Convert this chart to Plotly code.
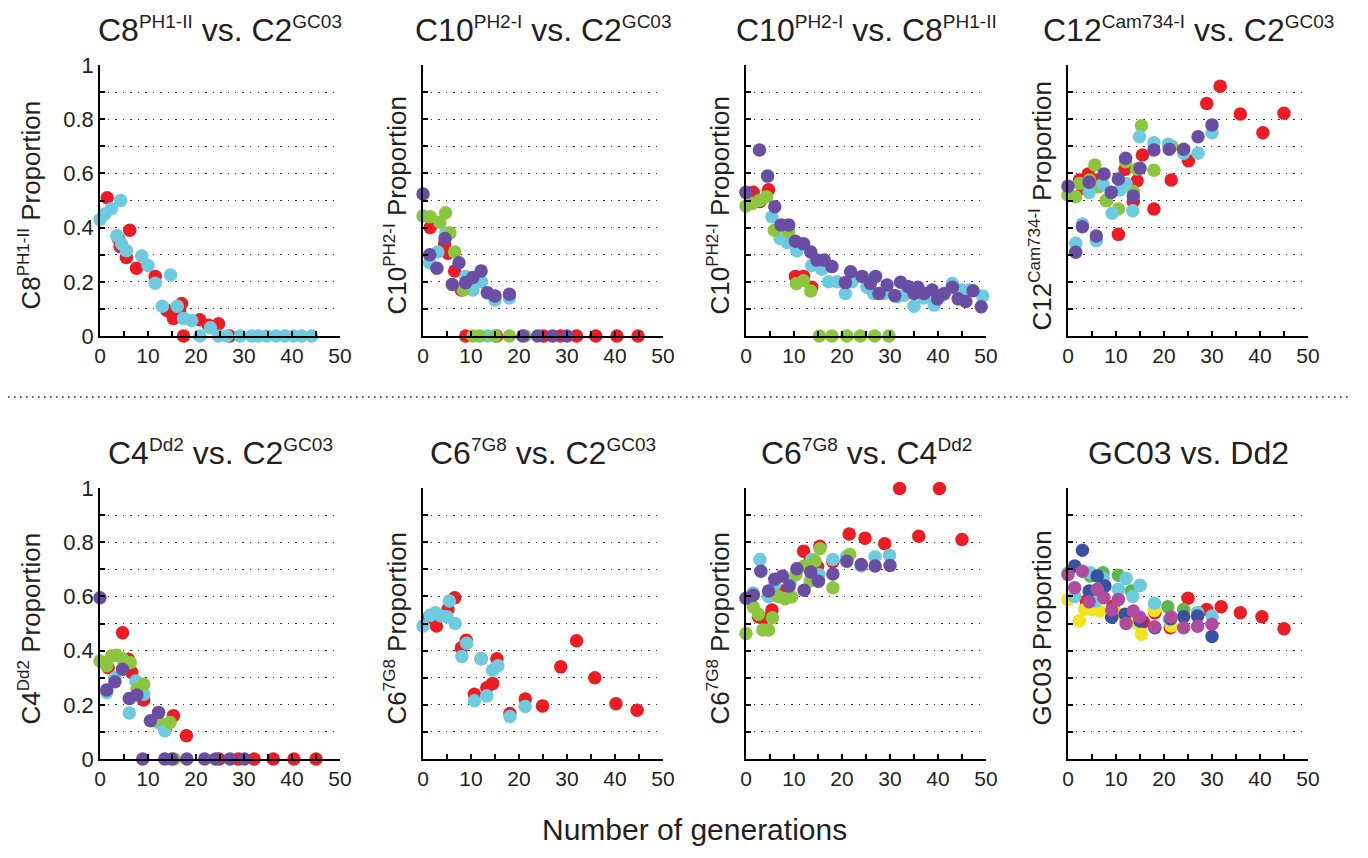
import plotly.graph_objects as go

# ---------------- data ----------------
RED = "#ED1C24"; CYAN = "#6CCBDE"; GREEN = "#8CC63F"; PURPLE = "#6A4EA3"
BLUE = "#3A50A2"; DGREEN = "#5CB84A"; YELLOW = "#F2E41C"; MAGENTA = "#B04C9E"

# Panel 1: C8 vs C2
p1_red_x = [1.5, 3.8, 4.2, 5.5, 6.2, 7.6, 11.5, 13.9, 15.3, 16.6, 17.0, 17.4, 20.8, 22.6, 24.7, 27.0]
p1_red_y = [0.51, 0.36, 0.33, 0.29, 0.39, 0.25, 0.22, 0.095, 0.065, 0.09, 0.12, 0.0, 0.06, 0.04, 0.045, 0.0]
p1_cyan_x = [0, 1, 2.4, 4.3, 3.5, 4.5, 5.5, 8.7, 10, 11.5, 14.7, 13, 16.1, 17.4, 19.1, 20.8, 23, 24.7, 26.4,
             29.2, 31.6, 33, 34.7, 36.7, 38.5, 40.3, 42, 44.1]
p1_cyan_y = [0.43, 0.45, 0.47, 0.50, 0.37, 0.34, 0.315, 0.295, 0.26, 0.195, 0.225, 0.11, 0.11, 0.065, 0.057, 0,
             0.03, 0, 0, 0, 0, 0, 0, 0, 0, 0, 0, 0]

# Panel 2: C10 vs C2
p2_red_x = [1.5, 4.5, 5.2, 6.6, 8.0, 8.9, 15.3, 25.1, 28.6, 32, 36, 40.4, 44.8]
p2_red_y = [0.40, 0.34, 0.305, 0.24, 0.17, 0, 0, 0, 0, 0, 0, 0, 0]
p2_cyan_x = [1.4, 3.1, 4.7, 8.9, 10.4, 12.2, 15, 18, 13.4]
p2_cyan_y = [0.27, 0.31, 0.38, 0.22, 0.17, 0.20, 0.133, 0.14, 0]
p2_green_x = [0, 1.5, 3.5, 4.7, 5.6, 6.6, 8.4, 10.4, 11.8, 15, 18, 21.3]
p2_green_y = [0.443, 0.44, 0.42, 0.455, 0.38, 0.31, 0.17, 0, 0, 0, 0, 0]
p2_purple_x = [0, 1.4, 2.9, 4.6, 7.5, 6.1, 8.9, 10.4, 12.1, 13.4, 15, 18, 20.8, 23.9, 27, 30]
p2_purple_y = [0.524, 0.30, 0.25, 0.36, 0.27, 0.19, 0.197, 0.216, 0.24, 0.16, 0.148, 0.154, 0, 0, 0, 0]

# Panel 3: C10 vs C8
p3_red_x = [1.5, 2.9, 4.7, 10.3, 12.0, 13.7]
p3_red_y = [0.53, 0.496, 0.54, 0.22, 0.22, 0.18]
p3_cyan_x = [5.4, 7.1, 8.6, 10.6, 13.7, 15.8, 17.2, 19, 20.7, 22.1, 25.2, 26.6, 28.7, 31.5, 32.9, 35, 37.1,
             39.2, 40.9, 43, 44.8, 46.5, 49.3]
p3_cyan_y = [0.44, 0.36, 0.345, 0.315, 0.26, 0.246, 0.2, 0.2, 0.157, 0.2, 0.18, 0.157, 0.157, 0.145, 0.15,
             0.11, 0.14, 0.114, 0.15, 0.194, 0.17, 0.17, 0.148]
p3_green_x = [0, 1.4, 2.8, 4.3, 5.9, 8.9, 10.5, 12, 13.5, 15.3, 17.9, 21, 23.8, 26.8, 29.8]
p3_green_y = [0.48, 0.49, 0.50, 0.514, 0.39, 0.385, 0.194, 0.204, 0.166, 0, 0, 0, 0, 0, 0]
p3_purple_x = [0, 2.8, 4.5, 6, 7.3, 8.9, 10.3, 12, 13.5, 14.8, 16.3, 17.9, 20.7, 21.8, 24.2, 25.9, 27, 27.7,
               29.4, 31, 32.2, 33.8, 35, 35.8, 37.1, 38.8, 39.9, 41.3, 43, 44.2, 45.8, 47.3, 49]
p3_purple_y = [0.53, 0.686, 0.59, 0.477, 0.41, 0.41, 0.35, 0.34, 0.31, 0.28, 0.28, 0.256, 0.197, 0.237, 0.22,
               0.194, 0.22, 0.157, 0.188, 0.149, 0.198, 0.182, 0.157, 0.18, 0.157, 0.17, 0.137, 0.157, 0.18,
               0.137, 0.127, 0.167, 0.108]

# Panel 4: C12 vs C2
p4_red_x = [31.7, 28.9, 35.9, 45, 40.6, 25.1, 15.5, 11.9, 14.4, 21.5, 17.9, 13.6, 10.5, 2.4, 4.2, 3.0, 5.9, 8.0]
p4_red_y = [0.922, 0.858, 0.819, 0.822, 0.75, 0.647, 0.668, 0.615, 0.573, 0.576, 0.469, 0.496, 0.375, 0.576,
            0.598, 0.545, 0.576, 0.50]
p4_green_x = [15.3, 5.6, 0, 1.6, 2.4, 4.5, 6.4, 8.0, 10.5, 12, 13.6, 14.3, 17.9, 21.6]
p4_green_y = [0.776, 0.631, 0.52, 0.514, 0.563, 0.576, 0.551, 0.50, 0.469, 0.643, 0.533, 0.616, 0.612, 0.70]
p4_cyan_x = [14.9, 17.9, 20.9, 24.1, 27.1, 30, 1.6, 3.0, 5.9, 4.4, 7.3, 9.2, 12.1, 10.8, 13.5]
p4_cyan_y = [0.735, 0.713, 0.708, 0.674, 0.674, 0.75, 0.342, 0.413, 0.352, 0.53, 0.56, 0.453, 0.563, 0.539,
             0.462]
p4_purple_x = [0, 1.6, 3.0, 4.4, 5.9, 7.5, 9.0, 10.5, 12, 13.6, 15, 17.9, 21.1, 24.1, 27.1, 30]
p4_purple_y = [0.553, 0.309, 0.403, 0.567, 0.369, 0.598, 0.53, 0.579, 0.656, 0.517, 0.619, 0.686, 0.689, 0.689,
               0.735, 0.779]

# Panel 5: C4 vs C2
p5_red_x = [4.7, 5.9, 6.6, 9.1, 1.7, 15.3, 18, 13.6, 24.8, 28.8, 32.1, 36.1, 40.4, 45]
p5_red_y = [0.466, 0.368, 0.319, 0.218, 0.337, 0.16, 0.086, 0.11, 0, 0, 0, 0, 0, 0]
p5_cyan_x = [1.4, 3.1, 6.1, 7.5, 9.1, 12.1, 13.5]
p5_cyan_y = [0.245, 0.30, 0.17, 0.288, 0.239, 0.135, 0.104]
p5_green_x = [0, 1.4, 2.4, 3.5, 4.7, 6.3, 9.1, 7.7, 12.1, 14.6, 15.5]
p5_green_y = [0.362, 0.344, 0.38, 0.383, 0.37, 0.356, 0.276, 0.258, 0.145, 0.135, 0]
p5_purple_x = [0, 1.4, 3.1, 4.7, 6.1, 7.7, 10.5, 12.2, 8.9, 13.5, 15, 18.1, 21.8, 24.1, 27.1, 30.1]
p5_purple_y = [0.595, 0.255, 0.285, 0.331, 0.223, 0.236, 0.141, 0.172, 0, 0, 0, 0, 0, 0, 0, 0]

# Panel 6: C6 vs C2
p6_red_x = [6.6, 5.2, 2.8, 1.2, 9.0, 8.0, 12.1, 15.4, 14.5, 13.3, 10.7, 21.3, 24.9, 18.1, 28.7, 32, 35.8,
            40.2, 44.6]
p6_red_y = [0.595, 0.552, 0.491, 0.521, 0.438, 0.41, 0.37, 0.37, 0.279, 0.263, 0.239, 0.221, 0.196, 0.168,
            0.34, 0.436, 0.30, 0.204, 0.18]
p6_cyan_x = [0, 1.5, 2.6, 3.8, 5.0, 5.5, 6.7, 9.1, 8.1, 12.1, 14.5, 15.6, 13.3, 10.7, 21.3, 18.1]
p6_cyan_y = [0.491, 0.53, 0.54, 0.528, 0.525, 0.583, 0.50, 0.427, 0.378, 0.37, 0.328, 0.344, 0.233, 0.215,
             0.194, 0.157]

# Panel 7: C6 vs C4
p7_red_x = [32, 40.3, 36, 45, 21.5, 24.8, 28.9, 12, 15.4, 13.4, 18.1, 5.4, 2.6, 3.6, 7.8, 14.9]
p7_red_y = [0.998, 0.998, 0.822, 0.81, 0.83, 0.815, 0.794, 0.767, 0.785, 0.736, 0.728, 0.55, 0.525, 0.518,
            0.62, 0.71]
p7_cyan_x = [2.9, 1.5, 4.7, 6.0, 13.7, 15.2, 18.1, 21, 24, 26.9, 29.9, 9.2]
p7_cyan_y = [0.736, 0.613, 0.60, 0.644, 0.736, 0.68, 0.736, 0.748, 0.712, 0.746, 0.752, 0.65]
p7_green_x = [0, 1.5, 2.6, 3.5, 4.7, 5.5, 6.7, 8.1, 9.5, 10.4, 12.1, 13.4, 14.4, 15.4, 18.1, 21.6]
p7_green_y = [0.463, 0.562, 0.534, 0.476, 0.476, 0.521, 0.60, 0.591, 0.599, 0.681, 0.712, 0.657, 0.73, 0.776,
              0.632, 0.755]
p7_purple_x = [0, 1.5, 3.1, 4.7, 6.0, 7.6, 9.0, 10.6, 12.1, 13.5, 15.1, 18.1, 21, 24, 26.9, 30]
p7_purple_y = [0.593, 0.604, 0.693, 0.62, 0.663, 0.675, 0.638, 0.702, 0.623, 0.69, 0.656, 0.683, 0.73, 0.718,
               0.712, 0.714]

# Panel 8: GC03 vs Dd2
p8_red_x = [25, 28.9, 31.9, 35.9, 40.4, 45, 3.8, 9.4, 15.7, 18.1, 21.3]
p8_red_y = [0.593, 0.552, 0.562, 0.54, 0.525, 0.481, 0.583, 0.564, 0.506, 0.54, 0.484]
p8_yellow_x = [0, 2.4, 3.5, 4.9, 6.5, 10.1, 11.9, 15.3, 18, 21.5, 14.3]
p8_yellow_y = [0.589, 0.51, 0.552, 0.552, 0.546, 0.54, 0.515, 0.46, 0.548, 0.491, 0.503]
p8_green_x = [7.3, 10.5, 13.2, 15, 20.8, 24.1, 27, 4.7]
p8_green_y = [0.687, 0.678, 0.62, 0.64, 0.562, 0.552, 0.54, 0.675]
p8_cyan_x = [0, 4.7, 7.3, 10.5, 12.1, 15, 13.5, 1.4, 5.8, 18, 21.1, 27, 30]
p8_cyan_y = [0.687, 0.687, 0.666, 0.626, 0.666, 0.64, 0.60, 0.60, 0.583, 0.575, 0.515, 0.54, 0.528]
p8_blue_x = [3, 1.4, 6.1, 7.7, 4.4, 9.1, 11.9, 15, 18.1, 21.4, 24.1, 27, 30]
p8_blue_y = [0.77, 0.712, 0.675, 0.638, 0.62, 0.523, 0.534, 0.509, 0.484, 0.518, 0.525, 0.528, 0.452]
p8_magenta_x = [0, 1.4, 3, 4.4, 6.1, 7.5, 10.5, 9.1, 12.1, 13.6, 14.9, 18, 21.5, 24.1, 27, 30]
p8_magenta_y = [0.681, 0.632, 0.693, 0.58, 0.626, 0.595, 0.589, 0.55, 0.50, 0.546, 0.524, 0.488, 0.524, 0.484,
                0.49, 0.497]

def sup(s, px):
    return f'<sup><span style="font-size:{px}px">{s}</span></sup>'

titles = ["C8" + sup("PH1-II", 19) + " vs. C2" + sup("GC03", 19),
          "C10" + sup("PH2-I", 19) + " vs. C2" + sup("GC03", 19),
          "C10" + sup("PH2-I", 19) + " vs. C8" + sup("PH1-II", 19),
          "C12" + sup("Cam734-I", 19) + " vs. C2" + sup("GC03", 19),
          "C4" + sup("Dd2", 19) + " vs. C2" + sup("GC03", 19),
          "C6" + sup("7G8", 19) + " vs. C2" + sup("GC03", 19),
          "C6" + sup("7G8", 19) + " vs. C4" + sup("Dd2", 19),
          "GC03 vs. Dd2"]
ytitles = ["C8" + sup("PH1-II", 17) + " Proportion",
           "C10" + sup("PH2-I", 17) + " Proportion",
           "C10" + sup("PH2-I", 17) + " Proportion",
           "C12" + sup("Cam734-I", 17) + " Proportion",
           "C4" + sup("Dd2", 17) + " Proportion",
           "C6" + sup("7G8", 17) + " Proportion",
           "C6" + sup("7G8", 17) + " Proportion",
           "GC03 Proportion"]
xlabel = "Number of generations"
x_ticks = [0, 5, 10, 15, 20, 25, 30, 35, 40, 45, 50]
x_ticktext = ["0", "", "10", "", "20", "", "30", "", "40", "", "50"]
y_ticks = [0, 0.1, 0.2, 0.3, 0.4, 0.5, 0.6, 0.7, 0.8, 0.9, 1.0]
y_ticktext = ["0", "", "0.2", "", "0.4", "", "0.6", "", "0.8", "", "1"]

panels = [
    [(p1_red_x, p1_red_y, RED), (p1_cyan_x, p1_cyan_y, CYAN)],
    [(p2_red_x, p2_red_y, RED), (p2_cyan_x, p2_cyan_y, CYAN), (p2_green_x, p2_green_y, GREEN),
     (p2_purple_x, p2_purple_y, PURPLE)],
    [(p3_red_x, p3_red_y, RED), (p3_cyan_x, p3_cyan_y, CYAN), (p3_green_x, p3_green_y, GREEN),
     (p3_purple_x, p3_purple_y, PURPLE)],
    [(p4_red_x, p4_red_y, RED), (p4_green_x, p4_green_y, GREEN), (p4_cyan_x, p4_cyan_y, CYAN),
     (p4_purple_x, p4_purple_y, PURPLE)],
    [(p5_red_x, p5_red_y, RED), (p5_cyan_x, p5_cyan_y, CYAN), (p5_green_x, p5_green_y, GREEN),
     (p5_purple_x, p5_purple_y, PURPLE)],
    [(p6_red_x, p6_red_y, RED), (p6_cyan_x, p6_cyan_y, CYAN)],
    [(p7_red_x, p7_red_y, RED), (p7_cyan_x, p7_cyan_y, CYAN), (p7_green_x, p7_green_y, GREEN),
     (p7_purple_x, p7_purple_y, PURPLE)],
    [(p8_red_x, p8_red_y, RED), (p8_yellow_x, p8_yellow_y, YELLOW), (p8_green_x, p8_green_y, DGREEN),
     (p8_cyan_x, p8_cyan_y, CYAN), (p8_blue_x, p8_blue_y, BLUE), (p8_magenta_x, p8_magenta_y, MAGENTA)],
]

# ---------------- layout geometry (page pixels) ----------------
OFF = 8                      # default body margin of the html page
W, H = 1352, 842             # figure size so that page + margins fits the window
col_left = [100, 423, 746, 1068]
col_w = 240
row_top = [65, 488]
row_h = 271
FONT = "Liberation Sans, Arial, sans-serif"
TXT = "#231F20"

def fx(px):
    return (px - OFF) / W

def fy(py):
    return 1 - (py - OFF) / H

fig = go.Figure()
layout = dict(width=W, height=H, margin=dict(l=0, r=0, t=0, b=0, autoexpand=False),
              paper_bgcolor="white", plot_bgcolor="white", showlegend=False,
              font=dict(family=FONT, color=TXT))
annotations = []
for i, series in enumerate(panels):
    r, c = divmod(i, 4)
    k = i + 1
    xa = "x" if k == 1 else f"x{k}"
    ya = "y" if k == 1 else f"y{k}"
    for xs, ys, col in series:
        fig.add_trace(go.Scatter(x=xs, y=ys, mode="markers", xaxis=xa, yaxis=ya,
                                 marker=dict(size=13.5, color=col, line=dict(width=0)),
                                 cliponaxis=False, hoverinfo="x+y"))
    x0, y0 = col_left[c], row_top[r]
    layout[f"xaxis{'' if k == 1 else k}"] = dict(
        domain=[fx(x0), fx(x0 + col_w)], anchor=ya, range=[0, 50], automargin=False,
        tickvals=x_ticks, ticktext=x_ticktext, ticks="inside", ticklen=5, tickwidth=1.5,
        tickcolor="black", showline=True, linecolor="black", linewidth=1.6,
        showgrid=False, zeroline=False, tickfont=dict(size=21, color=TXT, family=FONT),
        fixedrange=True)
    layout[f"yaxis{'' if k == 1 else k}"] = dict(
        domain=[fy(y0 + row_h), fy(y0)], anchor=xa, range=[0, 1], automargin=False,
        tickvals=y_ticks, ticktext=y_ticktext, ticks="inside", ticklen=5, tickwidth=1.5,
        tickcolor="black", showline=True, linecolor="black", linewidth=1.6,
        showticklabels=(c == 0), showgrid=True, gridcolor="#333333", gridwidth=1.2,
        griddash="1.5px,6px", zeroline=False,
        tickfont=dict(size=22, color=TXT, family=FONT), fixedrange=True)
    # panel title
    annotations.append(dict(text=titles[i], x=fx(x0 + col_w / 2), y=fy(y0 - 15),
                            xref="paper", yref="paper", xanchor="center", yanchor="bottom",
                            showarrow=False, font=dict(size=32, color=TXT, family=FONT)))
    # y axis title
    yt_x = 30 if c == 0 else x0 - 27
    annotations.append(dict(text=ytitles[i], x=fx(yt_x), y=fy(y0 + row_h / 2 + 5),
                            xref="paper", yref="paper", xanchor="center", yanchor="middle",
                            textangle=-90, showarrow=False,
                            font=dict(size=26, color=TXT, family=FONT)))

annotations.append(dict(text=xlabel, x=fx(694), y=fy(829), xref="paper", yref="paper",
                        xanchor="center", yanchor="middle", showarrow=False,
                        font=dict(size=30, color=TXT, family=FONT)))
layout["annotations"] = annotations
layout["shapes"] = [dict(type="line", xref="paper", yref="paper", x0=0, x1=fx(1348),
                         y0=fy(397), y1=fy(397), line=dict(color="#222222", width=1.5, dash="1.5px,4.5px"))]
fig.update_layout(**layout)
fig.write_html("out.html")
